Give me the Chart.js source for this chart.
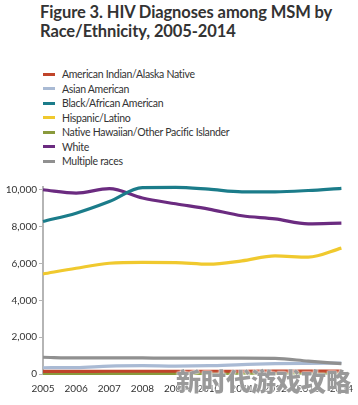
<!DOCTYPE html>
<html>
<head>
<meta charset="utf-8">
<script src="https://cdn.jsdelivr.net/npm/chart.js@4"></script>
<style>
  html, body { margin:0; padding:0; background:#fff; }
  body { width:358px; height:405px; position:relative; overflow:hidden; font-family:Lato, "Open Sans", sans-serif; }
  #title { position:absolute; left:40px; top:3px; font-family:Lato, sans-serif; font-weight:bold; font-size:16.5px; line-height:19px; color:#333; letter-spacing:-0.1px; }
  #legend { position:absolute; left:43px; top:67px; font-size:10.5px; letter-spacing:-0.3px; color:#333; }
  #legend .row { height:14.5px; line-height:14.5px; white-space:nowrap; }
  #legend .sw { display:inline-block; width:12px; height:3px; vertical-align:middle; margin-right:7px; position:relative; top:-1px; }
  #wrap { position:absolute; left:0; top:170px; width:358px; height:235px; }
  #wm { position:absolute; left:176px; top:362px; font-family:"Noto Sans CJK SC"; font-weight:900; font-size:25px; color:#9a9a9a; text-shadow:0 0 2px #fff, 0 0 2px #fff; white-space:nowrap; }
</style>
</head>
<body>
<div id="title">Figure 3. HIV Diagnoses among MSM by<br>Race/Ethnicity, 2005-2014</div>
<div id="legend"></div>
<div id="wrap"><canvas id="c" width="358" height="235"></canvas></div>
<div id="wm">新时代游戏攻略</div>
<script>
const years = ["2005","2006","2007","2008","2009","2010","2011","2012","2013","2014"];
const seriesNames = ["American Indian/Alaska Native","Asian American","Black/African American","Hispanic/Latino","Native Hawaiian/Other Pacific Islander","White","Multiple races"];
const americanIndian = [140,140,150,150,150,150,150,160,160,160];
const asianAmerican = [340,350,430,450,430,450,510,560,580,590];
const black = [8280,8730,9360,10120,10130,10030,9890,9890,9960,10080];
const hispanic = [5430,5740,6010,6060,6050,5960,6140,6410,6340,6830];
const nativeHawaiian = [30,30,35,35,35,35,40,40,40,40];
const white = [10000,9820,10060,9550,9240,8950,8590,8420,8150,8190];
const multipleRaces = [910,870,880,870,860,860,860,850,700,560];
const yTicks = [0,2000,4000,6000,8000,10000];

const colors = ["#c0442a","#a9bad4","#1b7c8a","#f0c92e","#8a9a3c","#6b2b80","#909090"];
const values = [americanIndian, asianAmerican, black, hispanic, nativeHawaiian, white, multipleRaces];

const legend = document.getElementById('legend');
seriesNames.forEach((n,i)=>{
  const r = document.createElement('div'); r.className='row';
  r.innerHTML = '<span class="sw" style="background:'+colors[i]+'"></span>'+n;
  legend.appendChild(r);
});

const order = [6,1,0,4,3,2,5];
const datasets = order.map(i=>({
  label: seriesNames[i], data: values[i], borderColor: colors[i], backgroundColor: colors[i],
  borderWidth: 3.2, pointRadius: 0, tension: 0.4, cubicInterpolationMode:'monotone', fill:false, clip:false
}));

new Chart(document.getElementById('c'), {
  type: 'line',
  data: { labels: years, datasets },
  options: {
    responsive:false, animation:false,
    layout: { padding: { top: 17, right: 14, left: 0, bottom: 0 } },
    plugins: { legend: { display:false }, tooltip: { enabled:false } },
    scales: {
      x: {
        offset:false,
        grid: { display:false, drawOnChartArea:false, drawTicks:true, tickLength:4, color:'#b5b5b5' },
        border: { display:false },
        ticks: { color:'#333', font:{ family:'Lato', size:10 }, padding:5, maxRotation:0, autoSkip:false },
        afterFit: s => { s.height = 31; }
      },
      y: {
        min:0, max:10150,
        afterBuildTicks: s => { s.ticks = yTicks.map(v=>({value:v})); },
        grid: { display:true, drawOnChartArea:false, drawTicks:true, tickLength:4, color:'#b5b5b5' },
        border: { display:true, color:'#b5b5b5', width:2 },
        ticks: { color:'#333', font:{ family:'Lato', size:10 }, padding:2,
          callback: v => v.toLocaleString('en-US') },
        afterFit: s => { s.width = 43; }
      }
    }
  }
});
</script>
</body>
</html>
